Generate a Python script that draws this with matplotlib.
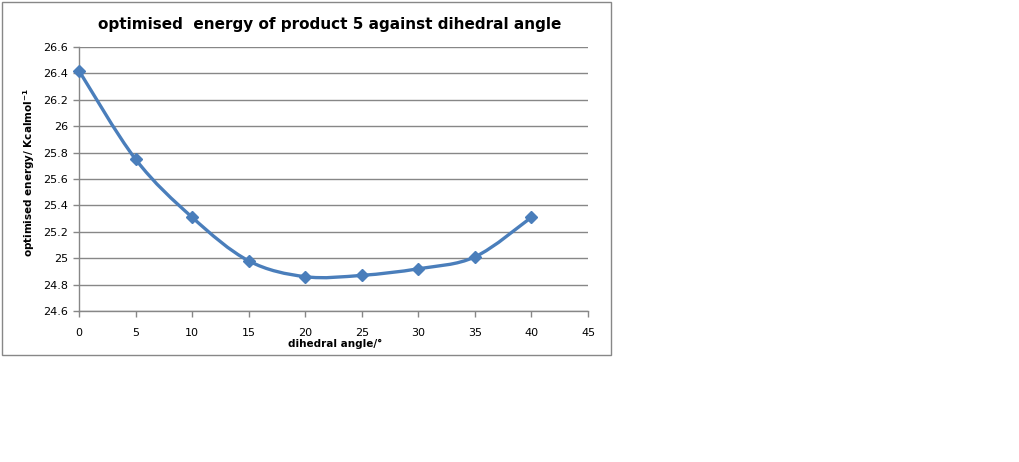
import matplotlib
matplotlib.use("Agg")
import matplotlib.pyplot as plt
from matplotlib.path import Path
from matplotlib.patches import PathPatch, Rectangle
import numpy as np

angles = [0, 5, 10, 15, 20, 25, 30, 35, 40]
energies = [26.42, 25.75, 25.31, 24.98, 24.86, 24.87, 24.92, 25.01, 25.31]
x_ticks = [0, 5, 10, 15, 20, 25, 30, 35, 40, 45]
y_ticks = [24.6, 24.8, 25.0, 25.2, 25.4, 25.6, 25.8, 26.0, 26.2, 26.4, 26.6]
y_tick_labels = ["24.6", "24.8", "25", "25.2", "25.4", "25.6", "25.8", "26", "26.2", "26.4", "26.6"]

title = "optimised  energy of product 5 against dihedral angle"
xlabel = "dihedral angle/°"
ylabel = "optimised energy/ Kcalmol$^{\\mathbf{-1}}$"

W, H = 1019, 462
fig = plt.figure(figsize=(W / 100, H / 100), dpi=100)
plt.rcParams['font.family'] = ['DejaVu Sans']

# chart border
fig.patches.append(Rectangle((1.5 / W, 1 - 354.5 / H), 609 / W, 353 / H,
                             transform=fig.transFigure, fill=False,
                             edgecolor="#878787", linewidth=1.0))

ax = fig.add_axes([79 / W, 1 - 311 / H, 509 / W, 264 / H])
ax.set_xlim(0, 45)
ax.set_ylim(24.6, 26.6)
ax.set_xticks(x_ticks)
ax.set_yticks(y_ticks)
ax.set_yticklabels(y_tick_labels)
ax.tick_params(axis="both", labelsize=8, colors="#878787", labelcolor="black",
               length=4, width=1, pad=4)
ax.tick_params(axis="x", pad=8)
ax.yaxis.grid(True, color="#878787", linewidth=1)
ax.set_axisbelow(True)
for s in ["top", "right"]:
    ax.spines[s].set_visible(False)
for s in ["left", "bottom"]:
    ax.spines[s].set_color("#878787")
    ax.spines[s].set_linewidth(1)

# Excel-style smoothed line (Catmull-Rom Bezier)
xs = np.array(angles, dtype=float)
ys = np.array(energies, dtype=float)
pts = np.column_stack([xs, ys])
n = len(pts)
verts = [tuple(pts[0])]
codes = [Path.MOVETO]
for i in range(n - 1):
    p0 = pts[i - 1] if i > 0 else pts[i]
    p1 = pts[i]
    p2 = pts[i + 1]
    p3 = pts[i + 2] if i + 2 < n else pts[i + 1]
    c1 = p1 + (p2 - p0) / 6.0
    c2 = p2 - (p3 - p1) / 6.0
    verts += [tuple(c1), tuple(c2), tuple(p2)]
    codes += [Path.CURVE4] * 3
color = "#4A7EBB"
ax.add_patch(PathPatch(Path(verts, codes), fill=False, edgecolor=color,
                       linewidth=2.4, capstyle="round", joinstyle="round", zorder=3))
ax.plot(angles, energies, linestyle="none", marker="D", markersize=6,
        color=color, zorder=4, clip_on=False)

fig.text(330 / W, 1 - 25 / H, title, ha="center", va="center",
         fontsize=11, fontweight="bold")
fig.text(335 / W, 1 - 344 / H, xlabel, ha="center", va="center",
         fontsize=7.5, fontweight="bold")
fig.text(29 / W, 1 - 173 / H, ylabel, ha="center", va="center",
         fontsize=7.5, fontweight="bold", rotation=90)

fig.savefig("out.png", dpi=100)
